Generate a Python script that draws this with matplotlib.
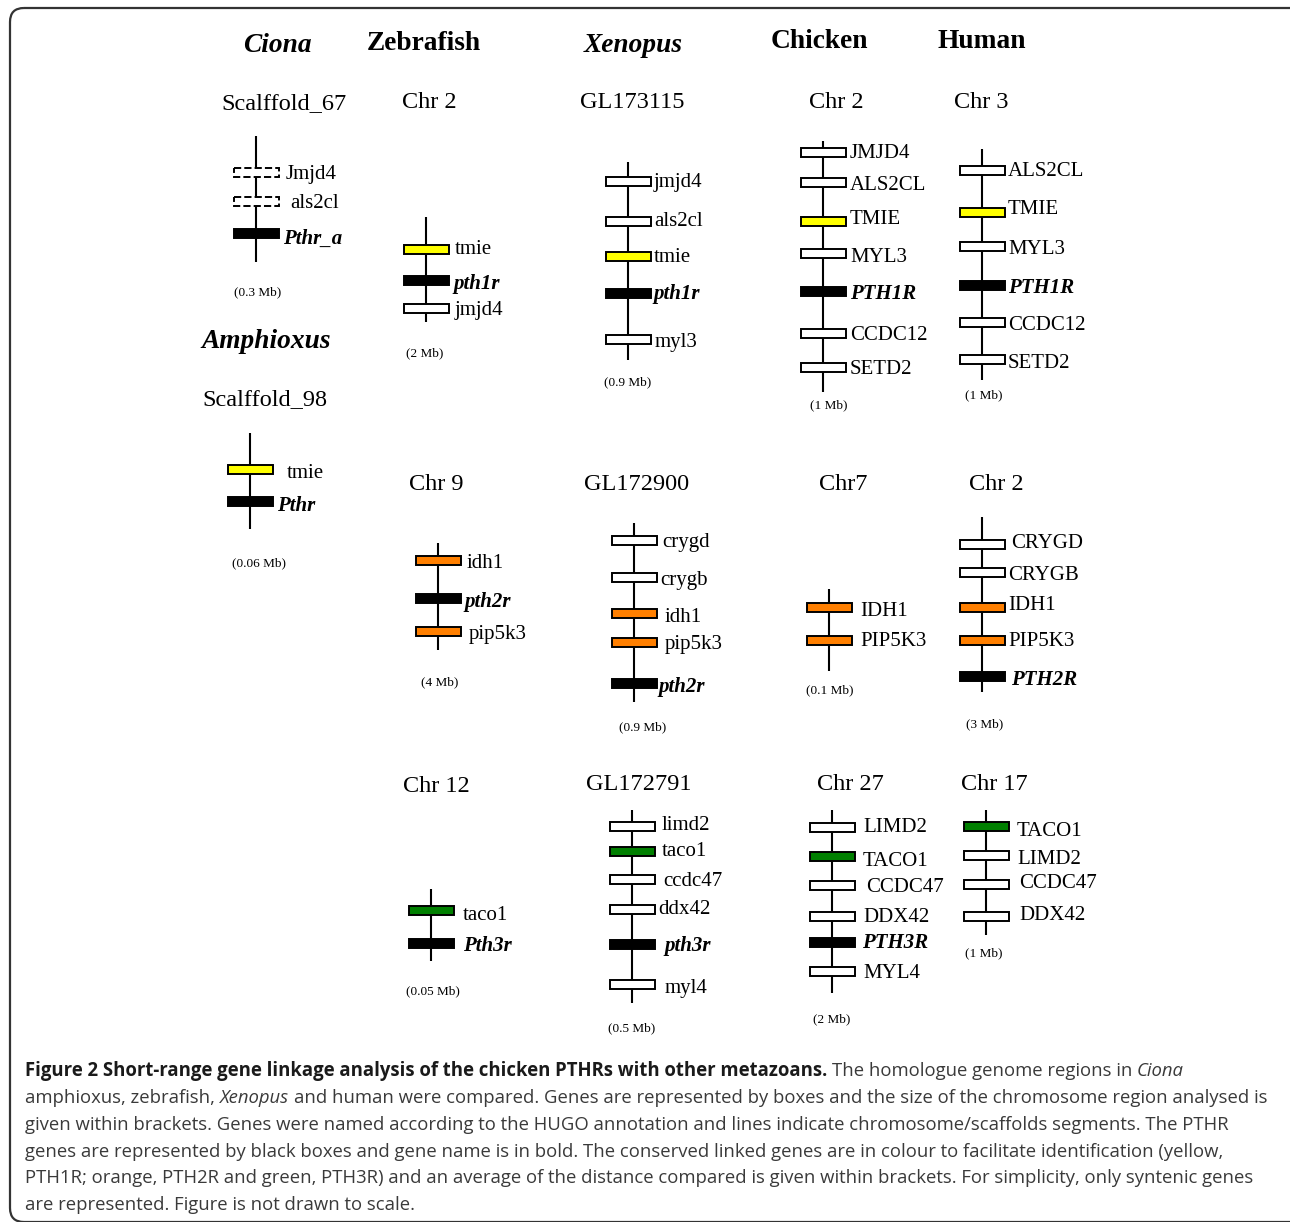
import matplotlib
matplotlib.use('Agg')
import matplotlib.pyplot as plt
from matplotlib.patches import Rectangle, FancyBboxPatch
from matplotlib.font_manager import FontProperties

# ---------------- data ----------------
species = ['Ciona', 'Zebrafish', 'Xenopus', 'Chicken', 'Human', 'Amphioxus']
species_italic = [True, False, True, False, False, True]

block_titles = ['Scalffold_67', 'Scalffold_98', 'Chr 2', 'GL173115', 'Chr 2', 'Chr 3',
                'Chr 9', 'GL172900', 'Chr7', 'Chr 2',
                'Chr 12', 'GL172791', 'Chr 27', 'Chr 17']
block_genes = [
    ['Jmjd4', 'als2cl', 'Pthr_a'],
    ['tmie', 'Pthr'],
    ['tmie', 'pth1r', 'jmjd4'],
    ['jmjd4', 'als2cl', 'tmie', 'pth1r', 'myl3'],
    ['JMJD4', 'ALS2CL', 'TMIE', 'MYL3', 'PTH1R', 'CCDC12', 'SETD2'],
    ['ALS2CL', 'TMIE', 'MYL3', 'PTH1R', 'CCDC12', 'SETD2'],
    ['idh1', 'pth2r', 'pip5k3'],
    ['crygd', 'crygb', 'idh1', 'pip5k3', 'pth2r'],
    ['IDH1', 'PIP5K3'],
    ['CRYGD', 'CRYGB', 'IDH1', 'PIP5K3', 'PTH2R'],
    ['taco1', 'Pth3r'],
    ['limd2', 'taco1', 'ccdc47', 'ddx42', 'pth3r', 'myl4'],
    ['LIMD2', 'TACO1', 'CCDC47', 'DDX42', 'PTH3R', 'MYL4'],
    ['TACO1', 'LIMD2', 'CCDC47', 'DDX42'],
]
# gene class: w other, d uncertain, k PTHR, 1/2/3 linked to PTH1R/PTH2R/PTH3R
block_classes = [
    ['d', 'd', 'k'],
    ['1', 'k'],
    ['1', 'k', 'w'],
    ['w', 'w', '1', 'k', 'w'],
    ['w', 'w', '1', 'w', 'k', 'w', 'w'],
    ['w', '1', 'w', 'k', 'w', 'w'],
    ['2', 'k', '2'],
    ['w', 'w', '2', '2', 'k'],
    ['2', '2'],
    ['w', 'w', '2', '2', 'k'],
    ['3', 'k'],
    ['w', '3', 'w', 'w', 'k', 'w'],
    ['w', '3', 'w', 'w', 'k', 'w'],
    ['3', 'w', 'w', 'w'],
]
block_sizes = ['(0.3 Mb)', '(0.06 Mb)', '(2 Mb)', '(0.9 Mb)', '(1 Mb)', '(1 Mb)',
               '(4 Mb)', '(0.9 Mb)', '(0.1 Mb)', '(3 Mb)',
               '(0.05 Mb)', '(0.5 Mb)', '(2 Mb)', '(1 Mb)']

caption_lines = [
    [('Figure 2 Short-range gene linkage analysis of the chicken PTHRs with other metazoans.', 'b'),
     (' The homologue genome regions in ', 'n'), ('Ciona', 'i')],
    [('amphioxus, zebrafish, ', 'n'), ('Xenopus', 'i'),
     (' and human were compared. Genes are represented by boxes and the size of the chromosome region analysed is', 'n')],
    [('given within brackets. Genes were named according to the HUGO annotation and lines indicate chromosome/scaffolds segments. The PTHR', 'n')],
    [('genes are represented by black boxes and gene name is in bold. The conserved linked genes are in colour to facilitate identification (yellow,', 'n')],
    [('PTH1R; orange, PTH2R and green, PTH3R) and an average of the distance compared is given within brackets. For simplicity, only syntenic genes', 'n')],
    [('are represented. Figure is not drawn to scale.', 'n')],
]

# ---------------- layout (pixels) ----------------
species_xy = [(277, 43), (424, 42), (633, 43), (819, 40), (982, 40), (266, 340)]
block_x = [256, 250, 426, 628, 823, 982, 438, 634, 829, 982, 431, 632, 832, 986]
block_span = [(136, 262), (433, 529), (217, 322), (162, 360), (141, 392), (149, 380),
              (543, 650), (523, 702), (589, 671), (517, 692),
              (889, 961), (810, 1003), (810, 993), (810, 935)]
title_xy = [(284, 102), (265, 398), (429, 101), (632, 101), (836, 101), (981, 101),
            (436, 483), (637, 483), (843, 483), (996, 483),
            (436, 785), (639, 782), (850, 782), (994, 782)]
size_xy = [(258, 291), (259, 562), (425, 352), (628, 381), (829, 404), (984, 394),
           (440, 681), (643, 726), (830, 689), (985, 723),
           (433, 990), (632, 1027), (832, 1018), (984, 952)]
gene_y = [
    [172, 201, 233],
    [469, 501],
    [249, 280, 308],
    [181, 221, 256, 293, 339],
    [152, 182, 221, 253, 291, 333, 367],
    [170, 212, 246, 285, 322, 359],
    [560, 598, 631],
    [540, 577, 613, 642, 683],
    [607, 640],
    [544, 572, 607, 640, 676],
    [910, 943],
    [826, 851, 879, 909, 944, 984],
    [827, 856, 885, 916, 942, 971],
    [826, 855, 884, 916],
]
label_x = [
    [286, 290, 283],
    [287, 277],
    [455, 453, 455],
    [654, 654, 654, 653, 655],
    [850, 850, 850, 850, 850, 850, 850],
    [1008, 1008, 1008, 1008, 1008, 1008],
    [467, 464, 469],
    [662, 660, 665, 665, 658],
    [860, 860],
    [1011, 1008, 1008, 1008, 1011],
    [463, 463],
    [662, 662, 663, 658, 664, 665],
    [863, 863, 866, 863, 862, 863],
    [1017, 1017, 1019, 1019],
]
label_y = [
    [172, 201, 237],
    [471, 504],
    [247, 282, 308],
    [181, 220, 255, 292, 340],
    [152, 183, 218, 255, 292, 334, 368],
    [170, 208, 248, 286, 324, 361],
    [561, 600, 633],
    [540, 579, 615, 643, 685],
    [609, 640],
    [542, 574, 604, 640, 678],
    [913, 944],
    [823, 850, 880, 908, 944, 986],
    [826, 859, 886, 915, 941, 972],
    [830, 857, 882, 914],
]
caption_y = [1071, 1098, 1125, 1152, 1178, 1205]
caption_x0, caption_x1 = 25, 1265
dy = 2  # text centre correction

box_w, box_h = 45, 9
fills = {'w': 'white', 'd': 'white', 'k': 'black',
         '1': '#ffff00', '2': '#ff7f00', '3': '#007f00'}
serif = 'Liberation Serif'
sans = 'Open Sans'

fig = plt.figure(figsize=(12.9, 12.22), dpi=100)
ax = fig.add_axes([0, 0, 1, 1])
ax.set_xlim(0, 1290)
ax.set_ylim(1222, 0)
ax.axis('off')

# outer frame
ax.add_patch(FancyBboxPatch((10, 8), 1300, 1214, boxstyle='round,pad=0,rounding_size=14',
                            fc='none', ec='#333333', lw=1.6, clip_on=False))

for name, it, (x, y) in zip(species, species_italic, species_xy):
    ax.text(x, y + dy, name, family=serif, fontsize=19.7, fontweight='bold',
            fontstyle='italic' if it else 'normal', ha='center', va='center')

for b in range(len(block_titles)):
    x = block_x[b]
    top, bot = block_span[b]
    ax.plot([x, x], [top, bot], color='black', lw=1.5, zorder=1, solid_capstyle='butt')
    tx, ty = title_xy[b]
    ax.text(tx, ty + dy, block_titles[b], family=serif, fontsize=17.5, ha='center', va='center')
    sx, sy = size_xy[b]
    ax.text(sx, sy + 1, block_sizes[b], family=serif, fontsize=9.5, ha='center', va='center')
    for g, c, gy, lx, ly in zip(block_genes[b], block_classes[b], gene_y[b], label_x[b], label_y[b]):
        ls = '--' if c == 'd' else '-'
        ax.add_patch(Rectangle((x - box_w / 2, gy - box_h / 2), box_w, box_h,
                               fc=fills[c], ec='black', lw=1.4, ls=ls, zorder=2))
        pthr = c == 'k'
        ax.text(lx, ly + dy, g, family=serif, fontsize=15,
                fontweight='bold' if pthr else 'normal',
                fontstyle='italic' if pthr else 'normal', ha='left', va='center')

# caption, drawn run by run
renderer = fig.canvas.get_renderer()
styles = {'b': dict(weight='bold', style='normal', color='#1a1a1a'),
          'n': dict(weight='normal', style='normal', color='#3a3a3a'),
          'i': dict(weight='normal', style='italic', color='#3a3a3a')}


def props(kind, size):
    st = styles[kind]
    return FontProperties(family=sans, weight=st['weight'], style=st['style'], size=size)


def ink(s, fp):
    return renderer.get_text_width_height_descent(s, fp, ismath=False)[0]


def run_parts(s, kind, size):
    fp = props(kind, size)
    sw = ink('n n', fp) - ink('nn', fp)
    core = s.strip(' ')
    lead = (len(s) - len(s.lstrip(' '))) * sw
    trail = (len(s) - len(s.rstrip(' '))) * sw
    # advance of the core text (measured against a following glyph)
    w = ink(core + 'n', fp) - ink('n', fp)
    return core, lead, w, trail


def line_width(runs, size):
    tot = 0
    for s, k in runs:
        core, lead, w, trail = run_parts(s, k, size)
        tot += lead + w + trail
    return tot


cap_size = 12.0
for _ in range(4):
    cap_size *= (caption_x1 - caption_x0) / line_width(caption_lines[1], cap_size)

for runs, y in zip(caption_lines, caption_y):
    x = caption_x0
    for s, k in runs:
        st = styles[k]
        core, lead, w, trail = run_parts(s, k, cap_size)
        x += lead
        ax.text(x, y, core, family=sans, fontsize=cap_size, fontweight=st['weight'],
                fontstyle=st['style'], color=st['color'], ha='left', va='center')
        x += w + trail

fig.savefig('out.png', dpi=100)
